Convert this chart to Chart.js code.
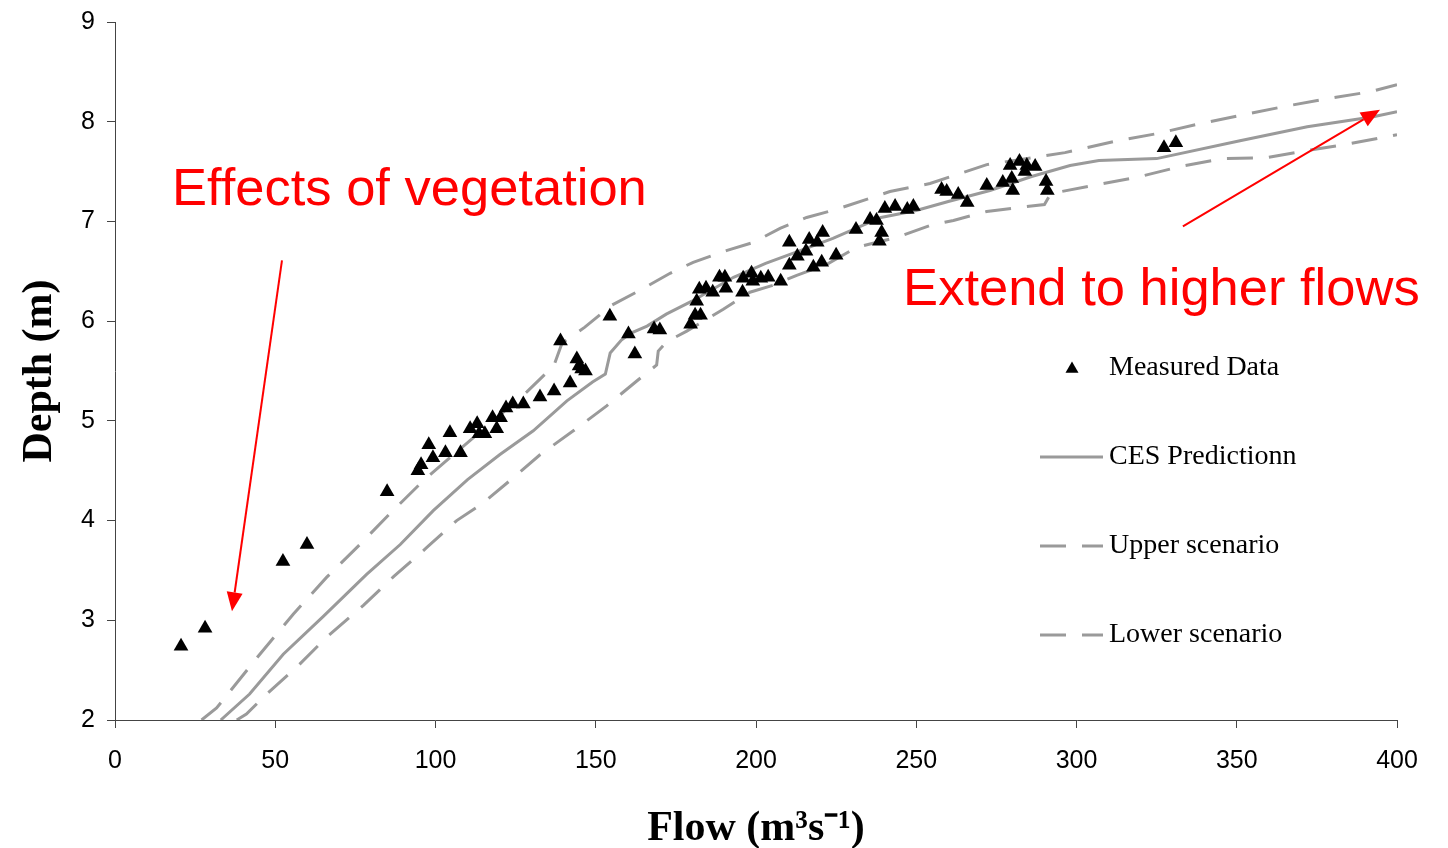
<!DOCTYPE html>
<html>
<head>
<meta charset="utf-8">
<title>Depth vs Flow</title>
<script src="https://cdn.jsdelivr.net/npm/chart.js@4.4.1/dist/chart.umd.min.js"></script>
<style>
  html, body { margin: 0; padding: 0; background: #fff; }
  canvas { display: block; }
</style>
</head>
<body>
<canvas id="depthChart" width="1448" height="848"></canvas>
<script>
// [flow (m3/s), depth (m)]
const measuredData = [
  [20.6, 2.74], [28.1, 2.92], [52.4, 3.59], [59.9, 3.76], [84.9, 4.29],
  [94.5, 4.50], [95.5, 4.56], [97.9, 4.76], [99.2, 4.63], [103.1, 4.68],
  [104.5, 4.88], [107.8, 4.68], [110.8, 4.92], [113.0, 4.97], [113.6, 4.87],
  [115.4, 4.87], [117.8, 5.03], [119.1, 4.92], [120.3, 5.03], [122.0, 5.13],
  [124.1, 5.17], [127.4, 5.17], [132.6, 5.24], [137.0, 5.30], [139.0, 5.80],
  [142.0, 5.38], [144.1, 5.62], [144.8, 5.55], [145.6, 5.52], [146.8, 5.50],
  [154.4, 6.05], [160.2, 5.87], [162.2, 5.67], [168.2, 5.92], [170.0, 5.91],
  [179.6, 5.97], [181.0, 6.06], [182.7, 6.06], [181.5, 6.20], [182.3, 6.32],
  [184.4, 6.33], [186.5, 6.29], [188.6, 6.44], [190.3, 6.44], [190.6, 6.33],
  [195.8, 6.29], [196.0, 6.43], [198.6, 6.48], [199.0, 6.40], [201.5, 6.43],
  [203.8, 6.44], [207.7, 6.40], [210.4, 6.79], [210.4, 6.56], [212.9, 6.65],
  [215.6, 6.70], [216.6, 6.82], [217.9, 6.54], [219.1, 6.79], [220.5, 6.59],
  [220.8, 6.89], [225.0, 6.66], [231.2, 6.92], [235.6, 7.02], [237.6, 7.01],
  [239.2, 6.89], [238.5, 6.80], [240.2, 7.13], [243.4, 7.15], [247.2, 7.12],
  [249.1, 7.15], [257.9, 7.32], [259.5, 7.30], [263.1, 7.27], [265.9, 7.19],
  [272.0, 7.36], [277.0, 7.39], [279.3, 7.56], [279.8, 7.43], [280.1, 7.31],
  [282.2, 7.60], [283.9, 7.50], [284.5, 7.56], [287.1, 7.55], [290.5, 7.40],
  [290.9, 7.31], [327.3, 7.74], [331.0, 7.79]
];

const cesPrediction = [
  [33, 2.0], [42, 2.26], [52.5, 2.66], [65, 3.04], [78.5, 3.46], [89, 3.76],
  [99.3, 4.10], [110, 4.41], [120, 4.66], [130.5, 4.90], [141, 5.20], [149, 5.39],
  [153, 5.47], [154.5, 5.68], [158, 5.81], [161, 5.88], [166, 5.95], [172, 6.07],
  [180, 6.20], [193, 6.44], [203, 6.58], [214, 6.71], [224, 6.83], [239, 7.04],
  [250, 7.11], [260, 7.20], [273, 7.31], [286, 7.45], [298, 7.56], [307, 7.61],
  [325, 7.63], [351, 7.81], [372, 7.95], [392.6, 8.05], [400, 8.10]
];

const upperScenario = [
  [27, 2.0], [31.7, 2.12], [45.2, 2.66], [55.6, 3.06], [66, 3.43], [76.4, 3.76],
  [85.8, 4.07], [96.2, 4.40], [107, 4.70], [118, 5.00], [128.5, 5.29], [135.2, 5.50],
  [137, 5.56], [139.5, 5.78], [146.6, 5.94], [155, 6.16], [163.8, 6.31], [173.2, 6.48],
  [180.4, 6.59], [191, 6.71], [199.2, 6.79], [207.5, 6.93], [215.8, 7.04], [225, 7.12],
  [241.8, 7.30], [254.3, 7.38], [272, 7.57], [286.5, 7.64], [296.4, 7.69], [311.5, 7.80],
  [325, 7.88], [338.5, 7.98], [352, 8.07], [364.4, 8.15], [378, 8.23], [391.6, 8.30],
  [400, 8.37]
];

const lowerScenario = [
  [38, 2.0], [41, 2.06], [47.3, 2.26], [56.7, 2.53], [66, 2.83], [77.5, 3.15],
  [87, 3.44], [97.3, 3.73], [106.6, 4.00], [115, 4.18], [124.3, 4.43], [132.6, 4.66],
  [143, 4.90], [153.4, 5.15], [162.8, 5.40], [169, 5.56], [169.5, 5.70], [172, 5.79],
  [178.4, 5.90], [189.8, 6.12], [198.1, 6.29], [205.4, 6.36], [212.7, 6.46], [222.1, 6.57],
  [231.4, 6.74], [243.9, 6.84], [254.3, 6.96], [261.6, 7.01], [272, 7.10], [284.5, 7.15],
  [290, 7.17], [292, 7.28], [305.3, 7.36], [319.8, 7.45], [332.3, 7.55], [345.8, 7.63],
  [359.3, 7.64], [371.8, 7.71], [385.3, 7.78], [400, 7.87]
];

const flowTicks = [0, 50, 100, 150, 200, 250, 300, 350, 400];
const depthTicks = [2, 3, 4, 5, 6, 7, 8, 9];
const seriesNames = ['Measured Data', 'CES Predictionn', 'Upper scenario', 'Lower scenario'];

const toXY = arr => arr.map(p => ({ x: p[0], y: p[1] }));

const LINE_GREY = '#9a9a9a';
const SANS = '"Liberation Sans", Arial, sans-serif';
const SERIF = '"Liberation Serif", "Times New Roman", serif';

// red notes and arrows, placed in data units
const notes = [
  { text: 'Effects of vegetation', at: [17.8, 7.165] },
  { text: 'Extend to higher flows', at: [245.9, 6.16] }
];
const arrows = [
  { from: [52.1, 6.61], to: [36.5, 3.09] },
  { from: [333.2, 6.95], to: [394.7, 8.12] }
];

function drawArrow(ctx, x1, y1, x2, y2) {
  const ang = Math.atan2(y2 - y1, x2 - x1);
  const len = 19, half = 8;
  const bx = x2 - len * Math.cos(ang), by = y2 - len * Math.sin(ang);
  ctx.beginPath();
  ctx.moveTo(x1, y1);
  ctx.lineTo(bx, by);
  ctx.stroke();
  ctx.beginPath();
  ctx.moveTo(x2, y2);
  ctx.lineTo(bx + half * Math.sin(ang), by - half * Math.cos(ang));
  ctx.lineTo(bx - half * Math.sin(ang), by + half * Math.cos(ang));
  ctx.closePath();
  ctx.fill();
}

function triangle(ctx, cx, cy, r) {
  ctx.beginPath();
  ctx.moveTo(cx, cy - r);
  ctx.lineTo(cx + r * Math.sin(2 * Math.PI / 3), cy - r * Math.cos(2 * Math.PI / 3));
  ctx.lineTo(cx - r * Math.sin(2 * Math.PI / 3), cy - r * Math.cos(2 * Math.PI / 3));
  ctx.closePath();
  ctx.fill();
}

const extras = {
  id: 'extras',
  afterDraw(chart) {
    const { ctx, chartArea: a, scales: { x, y } } = chart;
    ctx.save();

    // annotations
    ctx.fillStyle = '#ff0000';
    ctx.strokeStyle = '#ff0000';
    ctx.lineWidth = 2;
    ctx.font = '52.5px ' + SANS;
    ctx.textBaseline = 'alphabetic';
    notes.forEach(n => {
      ctx.fillText(n.text, x.getPixelForValue(n.at[0]), y.getPixelForValue(n.at[1]));
    });
    arrows.forEach(ar => {
      drawArrow(ctx,
        x.getPixelForValue(ar.from[0]), y.getPixelForValue(ar.from[1]),
        x.getPixelForValue(ar.to[0]), y.getPixelForValue(ar.to[1]));
    });

    // legend inside the plot, right side
    const lx = a.left + 925, top = a.top + 346, gap = 89, sample = 63;
    ctx.font = '28px ' + SERIF;
    ctx.textBaseline = 'middle';
    seriesNames.forEach((name, i) => {
      const ly = top + i * gap;
      if (i === 0) {
        ctx.fillStyle = '#000';
        triangle(ctx, lx + 32, ly + 1, 7.5);
      } else {
        ctx.strokeStyle = LINE_GREY;
        ctx.lineWidth = 3;
        ctx.setLineDash(i === 1 ? [] : [26, 16]);
        ctx.beginPath();
        ctx.moveTo(lx, ly);
        ctx.lineTo(lx + sample, ly);
        ctx.stroke();
        ctx.setLineDash([]);
      }
      ctx.fillStyle = '#000';
      ctx.fillText(name, lx + 69, ly);
    });

    ctx.restore();
  }
};

new Chart(document.getElementById('depthChart').getContext('2d'), {
  type: 'scatter',
  data: {
    datasets: [{
      label: seriesNames[0],
      data: toXY(measuredData),
      pointStyle: 'triangle',
      pointRadius: 8.5,
      backgroundColor: '#000',
      borderColor: '#000',
      borderWidth: 0,
      order: 0
    }, {
      label: seriesNames[1],
      data: toXY(cesPrediction),
      showLine: true,
      pointRadius: 0,
      borderColor: LINE_GREY,
      borderWidth: 3,
      order: 1
    }, {
      label: seriesNames[2],
      data: toXY(upperScenario),
      showLine: true,
      pointRadius: 0,
      borderColor: LINE_GREY,
      borderWidth: 3,
      borderDash: [26, 16],
      order: 1
    }, {
      label: seriesNames[3],
      data: toXY(lowerScenario),
      showLine: true,
      pointRadius: 0,
      borderColor: LINE_GREY,
      borderWidth: 3,
      borderDash: [26, 16],
      order: 1
    }]
  },
  options: {
    responsive: false,
    animation: false,
    layout: { padding: { top: 22, right: 51, left: 0, bottom: 0 } },
    plugins: {
      legend: { display: false },
      tooltip: { enabled: false }
    },
    scales: {
      x: {
        type: 'linear',
        min: flowTicks[0],
        max: flowTicks[flowTicks.length - 1],
        afterFit: s => { s.height = 128; },
        afterBuildTicks: s => { s.ticks = flowTicks.map(v => ({ value: v })); },
        ticks: { color: '#000', padding: 18, font: { family: SANS, size: 25 } },
        grid: { drawOnChartArea: false, drawTicks: true, tickLength: 8, color: '#444' },
        border: { display: true, color: '#444', width: 1 },
        title: {
          display: true,
          text: 'Flow (m³s⁻¹)',
          color: '#000',
          font: { family: SERIF, size: 42, weight: 'bold', lineHeight: 1 },
          padding: { top: 0, bottom: -2 }
        }
      },
      y: {
        type: 'linear',
        min: depthTicks[0],
        max: depthTicks[depthTicks.length - 1],
        afterFit: s => { s.width = 115; },
        afterBuildTicks: s => { s.ticks = depthTicks.map(v => ({ value: v })); },
        ticks: { color: '#000', padding: 12, font: { family: SANS, size: 25, lineHeight: 0.5 } },
        grid: { drawOnChartArea: false, drawTicks: true, tickLength: 8, color: '#444' },
        border: { display: true, color: '#444', width: 1 },
        title: {
          display: true,
          text: 'Depth (m)',
          color: '#000',
          font: { family: SERIF, size: 42, weight: 'bold', lineHeight: 1 },
          padding: { top: 19, bottom: 0 }
        }
      }
    }
  },
  plugins: [extras]
});
</script>
</body>
</html>
